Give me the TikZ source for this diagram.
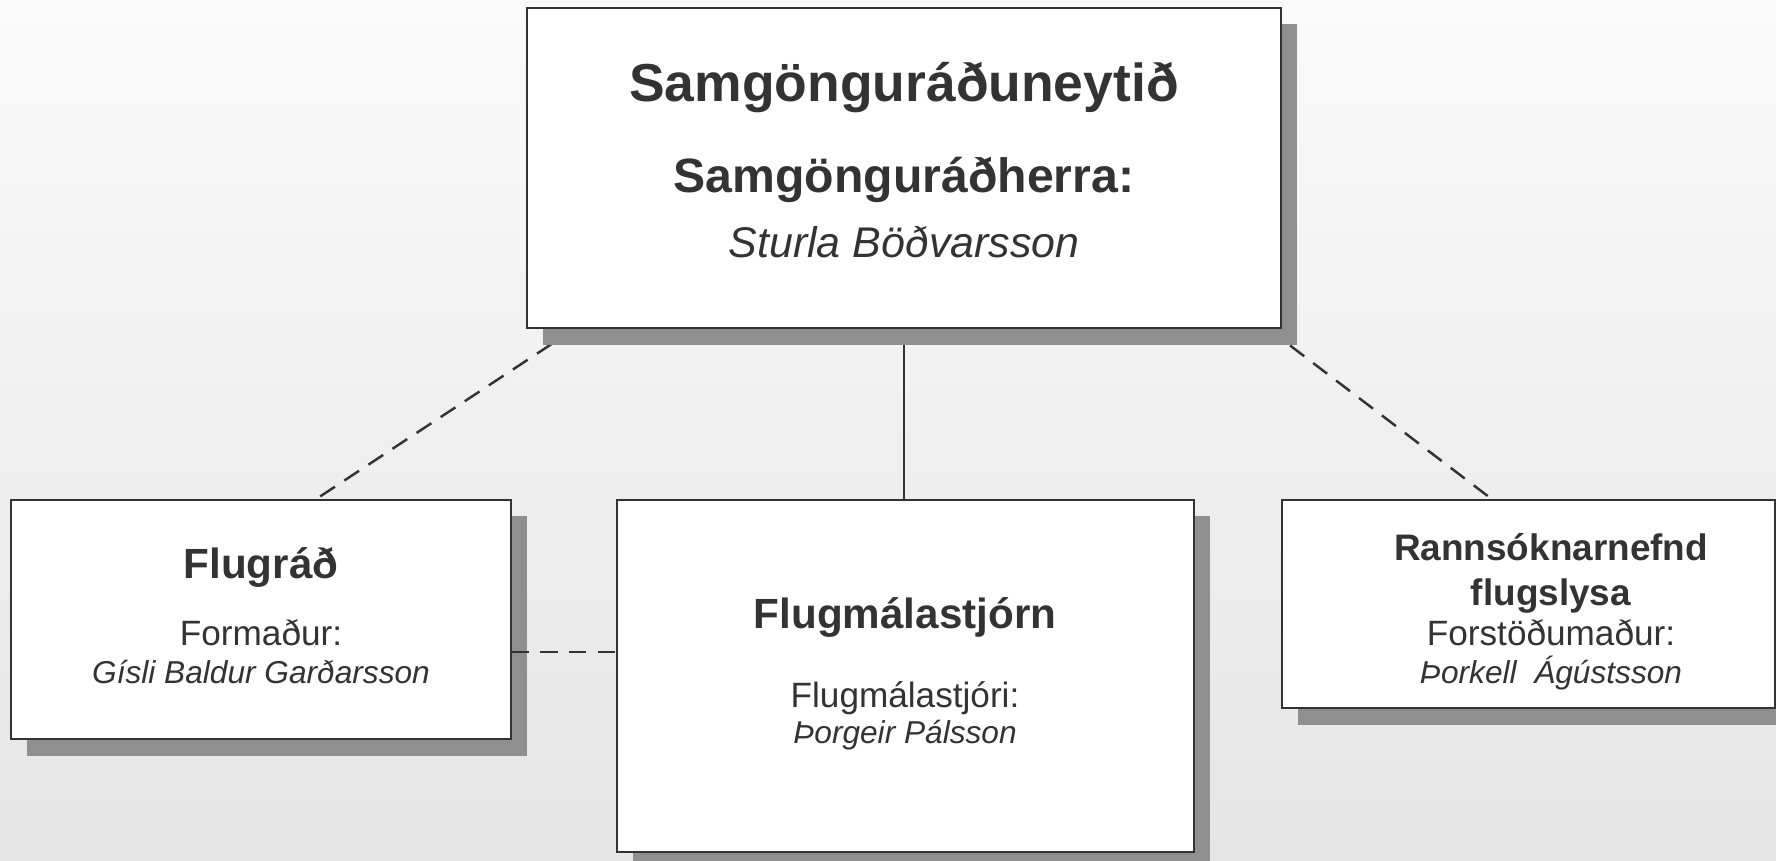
\documentclass[tikz,border=0pt]{standalone}
\usepackage{fontspec}
\setmainfont{Liberation Sans}
\usetikzlibrary{positioning}
\usetikzlibrary{calc}
\usetikzlibrary{shadows}
\usetikzlibrary{backgrounds}

\definecolor{inkgray}{HTML}{333333}
\definecolor{shadegray}{HTML}{8F8F8F}
\definecolor{bgtop}{HTML}{FAFAFA}
\definecolor{bgbottom}{HTML}{E5E5E5}

\begin{document}
\begin{tikzpicture}[x=0.01cm, y=-0.01cm,
    orgbox/.style={draw=inkgray, line width=0.7pt, fill=white, inner sep=0pt, outer sep=0pt,
      drop shadow={shadow xshift=0.16cm, shadow yshift=-0.165cm, fill=shadegray, opacity=1}},
    txt/.style={anchor=base, inner sep=0pt, text=inkgray},
    link/.style={draw=inkgray, line width=0.7pt},
    dashlink/.style={link, dash pattern=on 5pt off 3.2pt}]

 	% page size
 	\useasboundingbox (0,0) rectangle (1776,861);

 	% the four boxes
 	\node[orgbox, minimum width=7.54cm, minimum height=3.20cm] (top) at (904,168) {};
 	\node[orgbox, minimum width=5.00cm, minimum height=2.39cm] (left) at (261,619.5) {};
 	\node[orgbox, minimum width=5.77cm, minimum height=3.52cm] (mid) at (905.5,676) {};
 	\node[orgbox, minimum width=4.93cm, minimum height=2.08cm] (right) at (1528.5,604) {};

 	% texts
 	\node[txt, font=\fontsize{15.2}{18}\bfseries] (topHead) at (904,102) {Samgönguráðuneytið};
 	\node[txt, font=\fontsize{13.7}{16}\bfseries] (topRole) at (904,193) {Samgönguráðherra:};
 	\node[txt, font=\fontsize{12.2}{14}\itshape] (topName) at (904,258) {Sturla Böðvarsson};

 	\node[txt, font=\fontsize{12}{14}\bfseries] (leftHead) at (261,578) {Flugráð};
 	\node[txt, font=\fontsize{9}{11}] (leftRole) at (261,645) {Formaður:};
 	\node[txt, font=\fontsize{9}{11}\itshape] (leftName) at (261,683) {Gísli Baldur Garðarsson};

 	\node[txt, font=\fontsize{12}{14}\bfseries] (midHead) at (905,628) {Flugmálastjórn};
 	\node[txt, font=\fontsize{9}{11}] (midRole) at (905,707) {Flugmálastjóri:};
 	\node[txt, font=\fontsize{9}{11}\itshape] (midName) at (905,743) {Þorgeir Pálsson};

 	\node[txt, font=\fontsize{10.5}{13}\bfseries] (rightHead) at (1551,560) {Rannsóknarnefnd};
 	\node[txt, font=\fontsize{10.5}{13}\bfseries] (rightHeadb) at (1551,605) {flugslysa};
 	\node[txt, font=\fontsize{9}{11}] (rightRole) at (1551,645) {Forstöðumaður:};
 	\node[txt, font=\fontsize{9}{11}\itshape] (rightName) at (1551,683) {Þorkell\ \ Ágústsson};

 	% link between the two lower boxes, over the shadow
 	\coordinate (lnk) at ($(left.south east)+(0,-87)$);
 	\draw[dashlink] (lnk) -- (lnk -| mid.west);

 	% background and connectors, behind the boxes
 	\begin{scope}[on background layer]
 		\shade[top color=bgtop, bottom color=bgbottom] (0,0) rectangle (1776,861);
 		\draw[link] (top.south) -- (top.south |- mid.north);
 		\draw[dashlink] ($(top.south west)+(49,0)$) -- ($(left.north west)+(304,0)$);
 		\draw[dashlink] ($(top.south east)+(-14,0)$) -- ($(right.north west)+(211,0)$);
 	\end{scope}
\end{tikzpicture}
\end{document}
